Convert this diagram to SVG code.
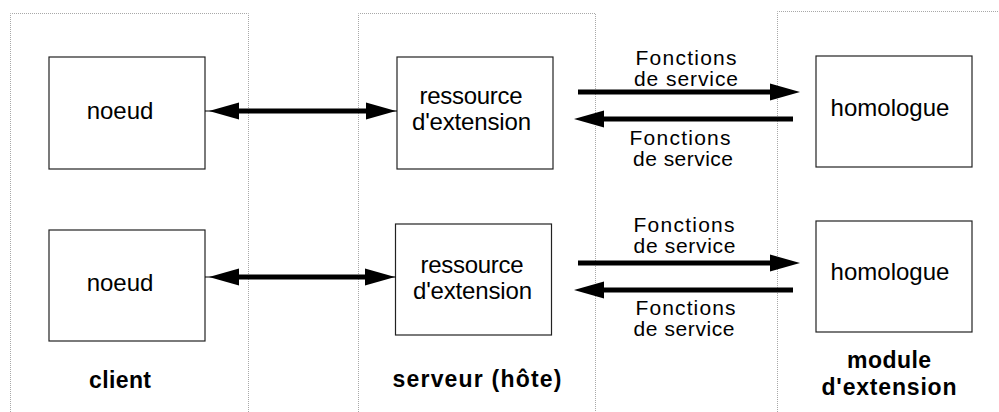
<svg xmlns="http://www.w3.org/2000/svg" width="999" height="412" viewBox="0 0 999 412">
<style>
.panel{fill:none;stroke:#a8a8a8;stroke-width:1;stroke-dasharray:1 1}
.box{fill:#fff;stroke:#222;stroke-width:1.2}
.t{font-family:"Liberation Sans",Arial,sans-serif;font-size:24px;fill:#000;text-anchor:middle}
.f{font-family:"Liberation Sans",Arial,sans-serif;font-size:21px;fill:#000;text-anchor:middle}
.b{font-family:"Liberation Sans",Arial,sans-serif;font-size:23px;font-weight:bold;fill:#000;text-anchor:middle}
.thick{stroke:#000;stroke-width:5;fill:none}
.thin{stroke:#000;stroke-width:1;fill:none}
</style>
<defs>
<marker id="ah" markerUnits="userSpaceOnUse" markerWidth="31" markerHeight="18" refX="0" refY="8.5" orient="auto-start-reverse" viewBox="0 0 31 17">
<path d="M0,0 L30,8.5 L0,17 z" fill="#000"/>
</marker>
</defs>
<rect width="999" height="412" fill="#fff"/>
<g id="panel-client">
<path class="panel" d="M10.5,412 V13.5 H248.5 V412"/>
<text class="b" x="120" y="388" textLength="62" lengthAdjust="spacing">client</text>
</g>
<g id="panel-serveur">
<path class="panel" d="M358.5,412 V13.5 H595.5 V412"/>
<text class="b" x="477" y="387" textLength="169" lengthAdjust="spacing">serveur (hôte)</text>
</g>
<g id="panel-module">
<path class="panel" d="M777.5,412 V11.5 H999"/>
<text class="b" x="889" y="368" textLength="84" lengthAdjust="spacing">module</text>
<text class="b" x="889" y="395" textLength="135" lengthAdjust="spacing">d'extension</text>
</g>
<g id="noeud1">
<rect class="box" x="49" y="57" width="156" height="112"/>
<text class="t" x="120" y="119">noeud</text>
</g>
<g id="noeud2">
<rect class="box" x="49" y="230" width="156" height="111"/>
<text class="t" x="120" y="291">noeud</text>
</g>
<g id="ressource1">
<rect class="box" x="397" y="57" width="156" height="112"/>
<text class="t" x="471" y="104" textLength="103" lengthAdjust="spacing">ressource</text>
<text class="t" x="471.5" y="130" textLength="119" lengthAdjust="spacing">d'extension</text>
</g>
<g id="ressource2">
<rect class="box" x="395.5" y="224" width="156" height="111"/>
<text class="t" x="472" y="273" textLength="103" lengthAdjust="spacing">ressource</text>
<text class="t" x="472.5" y="299" textLength="119" lengthAdjust="spacing">d'extension</text>
</g>
<g id="homologue1">
<rect class="box" x="816" y="56" width="156" height="111"/>
<text class="t" x="890" y="116">homologue</text>
</g>
<g id="homologue2">
<rect class="box" x="816" y="221" width="156" height="111"/>
<text class="t" x="890" y="280">homologue</text>
</g>
<g id="connectors">
<line class="thin" x1="205" y1="111" x2="397" y2="111"/>
<line class="thick" x1="239" y1="111" x2="366" y2="111" marker-start="url(#ah)" marker-end="url(#ah)"/>
<line class="thin" x1="205" y1="277" x2="395.5" y2="277"/>
<line class="thick" x1="239" y1="277" x2="365" y2="277" marker-start="url(#ah)" marker-end="url(#ah)"/>
<line class="thick" x1="578" y1="92" x2="770" y2="92" marker-end="url(#ah)"/>
<line class="thick" x1="793" y1="119" x2="604" y2="119" marker-end="url(#ah)"/>
<line class="thick" x1="578" y1="263" x2="770" y2="263" marker-end="url(#ah)"/>
<line class="thick" x1="793" y1="290" x2="604" y2="290" marker-end="url(#ah)"/>
<text class="f" x="686" y="65" textLength="101" lengthAdjust="spacing">Fonctions</text>
<text class="f" x="686" y="86" textLength="104" lengthAdjust="spacing">de service</text>
<text class="f" x="680" y="145" textLength="101" lengthAdjust="spacing">Fonctions</text>
<text class="f" x="683" y="166" textLength="100" lengthAdjust="spacing">de service</text>
<text class="f" x="684" y="232" textLength="101" lengthAdjust="spacing">Fonctions</text>
<text class="f" x="684.5" y="253" textLength="102" lengthAdjust="spacing">de service</text>
<text class="f" x="685.5" y="315" textLength="100" lengthAdjust="spacing">Fonctions</text>
<text class="f" x="684" y="336" textLength="101" lengthAdjust="spacing">de service</text>
</g>
</svg>
